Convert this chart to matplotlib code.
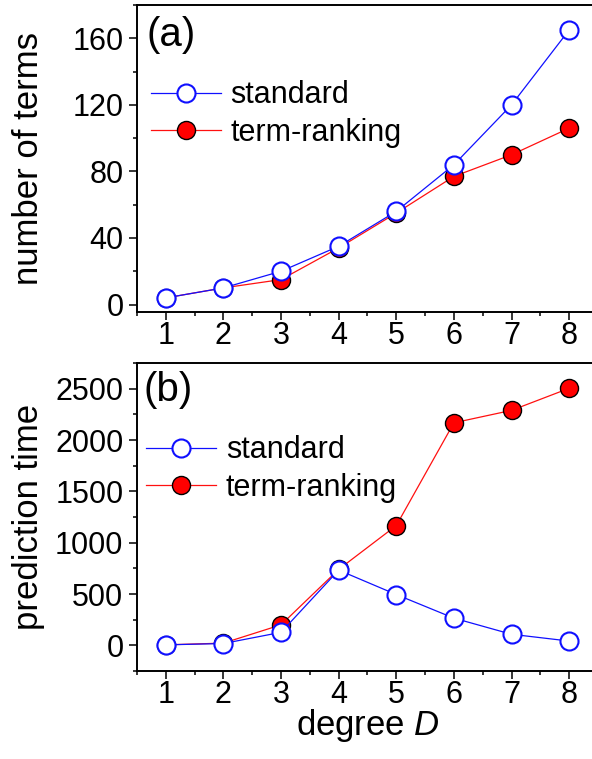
import matplotlib.pyplot as plt
from matplotlib.ticker import MultipleLocator

# -----------------------------
# Data
# -----------------------------
degree = [1, 2, 3, 4, 5, 6, 7, 8]

terms_standard = [4, 10, 20, 35, 56, 84, 120, 165]
terms_ranking = [4, 10, 15, 34, 55, 77, 90, 106]

time_standard = [5, 18, 127, 733, 495, 265, 108, 42]
time_ranking = [5, 22, 200, 740, 1167, 2168, 2289, 2504]

x_ticks = [1, 2, 3, 4, 5, 6, 7, 8]
y_ticks_a = [0, 40, 80, 120, 160]
y_ticks_b = [0, 500, 1000, 1500, 2000, 2500]

plt.rcParams['font.family'] = ['Liberation Sans', 'DejaVu Sans']
plt.rcParams['mathtext.fontset'] = 'custom'
plt.rcParams['mathtext.it'] = 'Liberation Sans:italic'
plt.rcParams['mathtext.rm'] = 'Liberation Sans'

TICK_FS = 22
LABEL_FS = 25
LEG_FS = 22
PANEL_FS = 29


def style_axes(ax, yticks, ymin, ymax, yminor):
    ax.set_xlim(0.5, 8.5)
    ax.set_ylim(ymin, ymax)
    ax.set_xticks(x_ticks)
    ax.set_yticks(yticks)
    ax.xaxis.set_minor_locator(MultipleLocator(0.5))
    ax.yaxis.set_minor_locator(MultipleLocator(yminor))
    ax.tick_params(which='major', direction='out', length=5.8, width=1.1,
                   labelsize=TICK_FS)
    ax.tick_params(axis='x', which='major', pad=0.5)
    ax.tick_params(axis='y', which='major', pad=4)
    ax.tick_params(which='minor', direction='out', length=3, width=1.1)
    ax.tick_params(top=False, right=False)
    for s in ax.spines.values():
        s.set_linewidth(1.4)


def draw(ax, ys, yr):
    ax.plot(degree, ys, '-o', color='#1010ff', lw=0.9, ms=13,
            mfc='white', mec='#1010ff', mew=1.5, label='standard', zorder=3)
    ax.plot(degree, yr, '-o', color='#ff1010', lw=0.9, ms=13,
            mfc='#ff0000', mec='black', mew=1.0, label='term-ranking', zorder=2)


def add_legend(ax, anchor):
    ax.legend(loc='upper left', bbox_to_anchor=anchor, frameon=False,
              fontsize=LEG_FS, handlelength=2.3, handletextpad=0.3,
              labelspacing=0.25, borderaxespad=0.0, borderpad=0.0)


fig = plt.figure(figsize=(5.92, 7.59), dpi=100)
ax1 = fig.add_axes([0.2314, 0.5889, 0.7787, 0.4045])
ax2 = fig.add_axes([0.2314, 0.1159, 0.7787, 0.4058])

draw(ax1, terms_standard, terms_ranking)
style_axes(ax1, y_ticks_a, -4.5, 180, 20)
ax1.set_ylabel('number of terms', fontsize=LABEL_FS)
ax1.text(0.02, 0.965, '(a)', transform=ax1.transAxes, fontsize=PANEL_FS,
         va='top', ha='left')
add_legend(ax1, (0.03, 0.755))

draw(ax2, time_standard, time_ranking)
style_axes(ax2, y_ticks_b, -250, 2750, 250)
ax2.set_ylabel('prediction time', fontsize=LABEL_FS)
ax2.set_xlabel('degree $\\mathit{D}$', fontsize=LABEL_FS)
ax2.xaxis.set_label_coords(0.5, -0.118)
ax2.text(0.015, 0.975, '(b)', transform=ax2.transAxes, fontsize=PANEL_FS,
         va='top', ha='left')
add_legend(ax2, (0.02, 0.765))

# both y labels sit on one vertical line, like the original
ax1.yaxis.set_label_coords(-0.2, 0.5)
ax2.yaxis.set_label_coords(-0.2, 0.5)

fig.savefig('out.png', dpi=100)
